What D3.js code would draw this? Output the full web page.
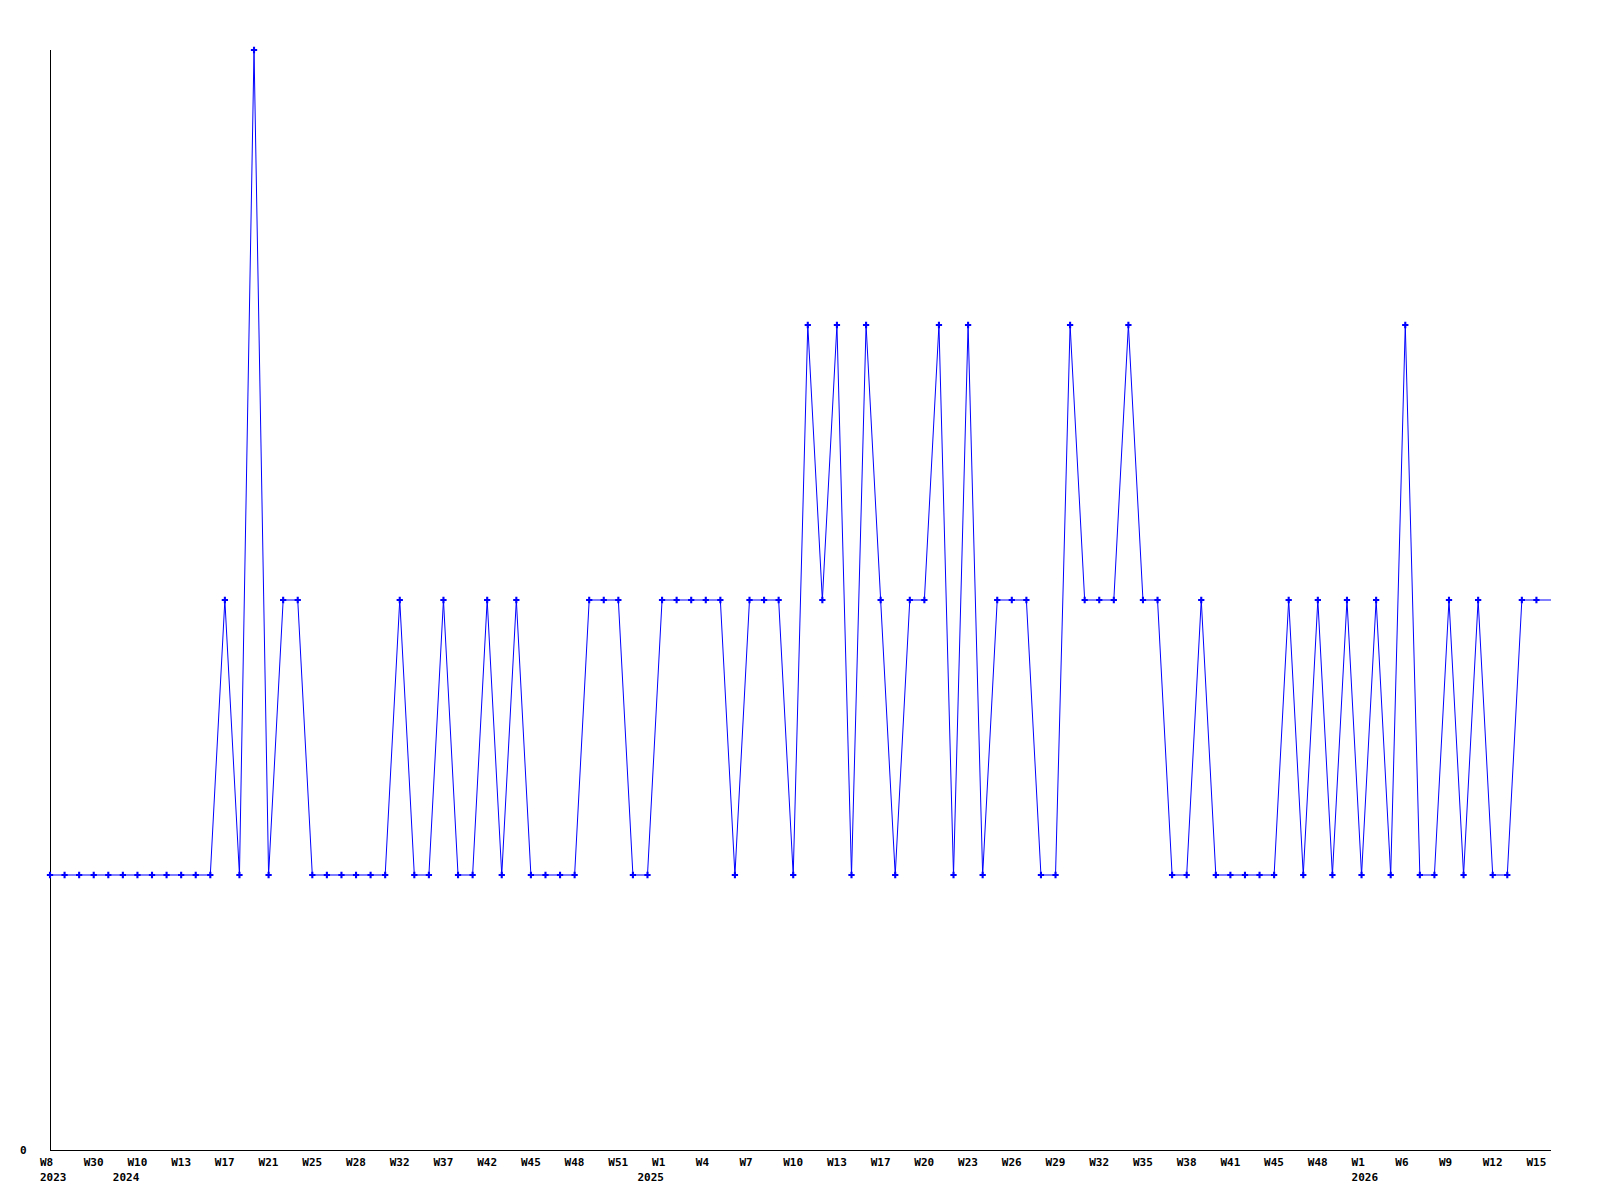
<!DOCTYPE html>
<html>
<head>
<meta charset="utf-8">
<script src="https://cdn.jsdelivr.net/npm/d3@7"></script>
<style>
  body { margin: 0; background: #fff; }
  text { font-family: "DejaVu Sans Mono", monospace; font-weight: bold; font-size: 11px; }
</style>
</head>
<body>
<div id="chart"></div>
<script>
// weekly values, one per point
var values = [1,1,1,1,1,1,1,1,1,1,1,1,
  2,1,4,1,2,2,
  1,1,1,1,1,1,
  2,1,1,2,1,1,2,1,2,
  1,1,1,1,
  2,2,2,1,1,
  2,2,2,2,2,1,2,2,2,1,
  3,2,3,1,3,2,1,2,2,3,1,3,1,
  2,2,2,1,1,
  3,2,2,2,3,2,2,1,1,2,
  1,1,1,1,1,
  2,1,2,1,2,1,2,1,3,1,1,2,1,2,1,1,2,2,2];

// week labels, shown every 3rd point
var weekLabels = ["W8","W30","W10","W13","W17","W21","W25","W28","W32","W37",
  "W42","W45","W48","W51","W1","W4","W7","W10","W13","W17",
  "W20","W23","W26","W29","W32","W35","W38","W41","W45","W48",
  "W1","W6","W9","W12","W15"];
var labelStep = 3;

// first point of each year
var years = ["2023","2024","2025","2026"];
var yearStart = [0,5,41,90];

var yTicks = [0];

// set the dimensions and margins of the graph
var margin = {top: 50, right: 49, bottom: 50, left: 50},
    width = 1600 - margin.left - margin.right,
    height = 1200 - margin.top - margin.bottom;

var svg = d3.select("#chart")
  .append("svg")
    .attr("width", 1600)
    .attr("height", 1200)
  .append("g")
    .attr("transform", "translate(" + margin.left + "," + margin.top + ")");

var x = d3.scaleLinear()
  .domain([0, values.length - 1])
  .range([0, width]);

var y = d3.scaleLinear()
  .domain([0, 4])
  .range([height, 0]);

// axes lines
svg.append("line")
  .attr("x1", 0).attr("x2", 0)
  .attr("y1", 0).attr("y2", height)
  .attr("stroke", "black")
  .attr("shape-rendering", "crispEdges");
svg.append("line")
  .attr("x1", 0).attr("x2", width)
  .attr("y1", height).attr("y2", height)
  .attr("stroke", "black")
  .attr("shape-rendering", "crispEdges");

// y tick label
svg.selectAll(".ylab")
  .data(yTicks)
  .enter()
  .append("text")
    .attr("x", -30)
    .attr("y", function(d) { return y(d) + 4; })
    .text(function(d) { return d; });

// week labels
svg.selectAll(".wlab")
  .data(weekLabels)
  .enter()
  .append("text")
    .attr("x", function(d, i) { return x(i * labelStep) - 10; })
    .attr("y", height + 16)
    .text(function(d) { return d; });

// year labels
svg.selectAll(".ylab2")
  .data(years)
  .enter()
  .append("text")
    .attr("x", function(d, i) { return x(yearStart[i]) - 10; })
    .attr("y", height + 31)
    .text(function(d) { return d; });

// the line
var line = d3.line()
  .x(function(d, i) { return x(i); })
  .y(function(d) { return y(d); });

svg.append("path")
  .datum(values)
  .attr("fill", "none")
  .attr("stroke", "#0000ff")
  .attr("stroke-width", 1)
  .attr("d", line);

// point markers (last one sits on the edge and isn't drawn)
var marker = d3.symbol().type(d3.symbolCross).size(22);
svg.append("g")
  .selectAll("path")
  .data(values.slice(0, values.length - 1))
  .enter()
  .append("path")
    .attr("d", marker)
    .attr("transform", function(d, i) { return "translate(" + x(i) + "," + y(d) + ")"; })
    .attr("fill", "#0000ff");
</script>
</body>
</html>
